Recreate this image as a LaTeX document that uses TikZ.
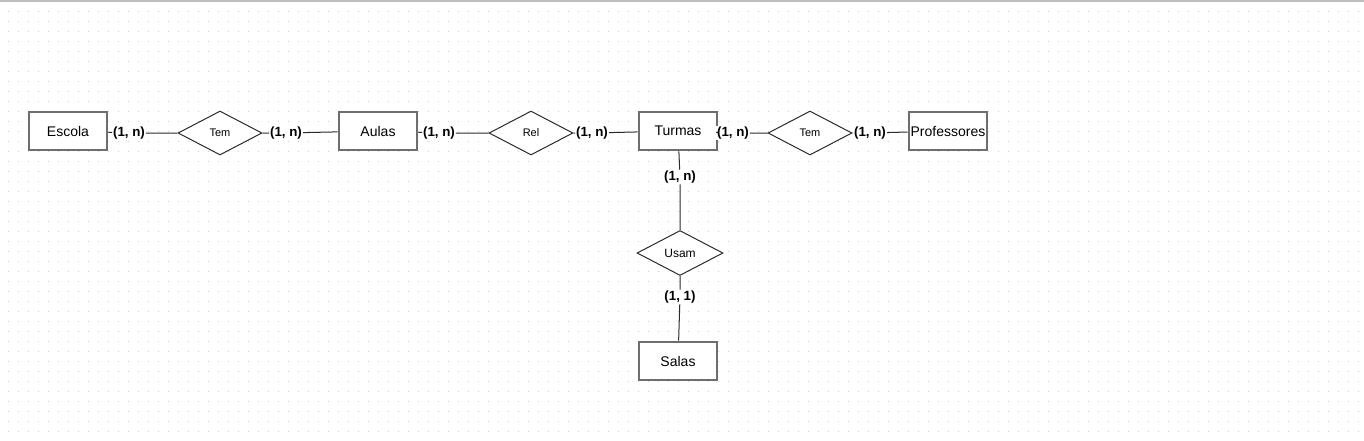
\documentclass[tikz,border=0pt]{standalone}
\usepackage{fontspec}
\setmainfont{Liberation Sans}
\usetikzlibrary{shapes.geometric}
\definecolor{gridgray}{HTML}{CFCFCF}
\definecolor{topgray}{HTML}{BDBDBD}
\definecolor{boxgray}{HTML}{6E6E6E}
\definecolor{linegray}{HTML}{2B2B2B}
\tikzset{
  gridrow/.style={draw=gridgray,line width=0.75pt,dash pattern=on 0.75pt off 6.75pt},
  entity/.style={draw=boxgray,line width=1.5pt,fill=white,minimum width=59pt,minimum height=29pt,inner sep=0pt,font=\fontsize{10.5}{12}\selectfont},
  relation/.style={diamond,draw=linegray,line width=0.75pt,fill=white,minimum width=63pt,minimum height=33pt,inner sep=0pt,font=\fontsize{8.25}{10}\selectfont},
  card/.style={fill=white,inner sep=0.6pt,font=\bfseries\fontsize{10}{12}\selectfont},
  link/.style={draw=linegray,line width=0.75pt}
}
\begin{document}
\begin{tikzpicture}[x=0.75pt,y=-0.75pt]
\useasboundingbox (0,0) rectangle (1364,440);
\foreach \gy in {11,21,...,431} \draw[gridrow] (7.5,\gy) -- (1364,\gy);
\draw[topgray,line width=1.5pt] (0,0.5) -- (1364,0.5);
\node[entity] (escola) at (68,131) {Escola};
\node[relation] (tem1) at (220,133) {Tem};
\node[entity] (aulas) at (378,131) {Aulas};
\node[relation] (rel) at (531,133) {Rel};
\node[entity] (turmas) at (678,131) {Turmas};
\node[relation] (tem2) at (810,133) {Tem};
\node[entity] (profs) at (948,131) {Professores};
\node[relation,minimum width=64.5pt,minimum height=33.75pt,font=\fontsize{9}{10}\selectfont] (usam) at (680,253) {Usam};
\node[entity] (salas) at (678,361) {Salas};
\node[card] (c1) at (129,133) {(1, n)};
\node[card] (c2) at (286,133) {(1, n)};
\node[card] (c3) at (439,133) {(1, n)};
\node[card] (c4) at (592,133) {(1, n)};
\node[card] (c5) at (733,133) {(1, n)};
\node[card] (c6) at (870,133) {(1, n)};
\node[card] (c7) at (680,177) {(1, n)};
\node[card] (c8) at (680,297) {(1, 1)};
\draw[link] (escola) -- (c1) -- (tem1);
\draw[link] (tem1) -- (c2) -- (aulas);
\draw[link] (aulas) -- (c3) -- (rel);
\draw[link] (rel) -- (c4) -- (turmas);
\draw[link] (turmas) -- (c5) -- (tem2);
\draw[link] (tem2) -- (c6) -- (profs);
\draw[link] (turmas) -- (c7) -- (usam);
\draw[link] (usam) -- (c8) -- (salas);
\end{tikzpicture}
\end{document}
